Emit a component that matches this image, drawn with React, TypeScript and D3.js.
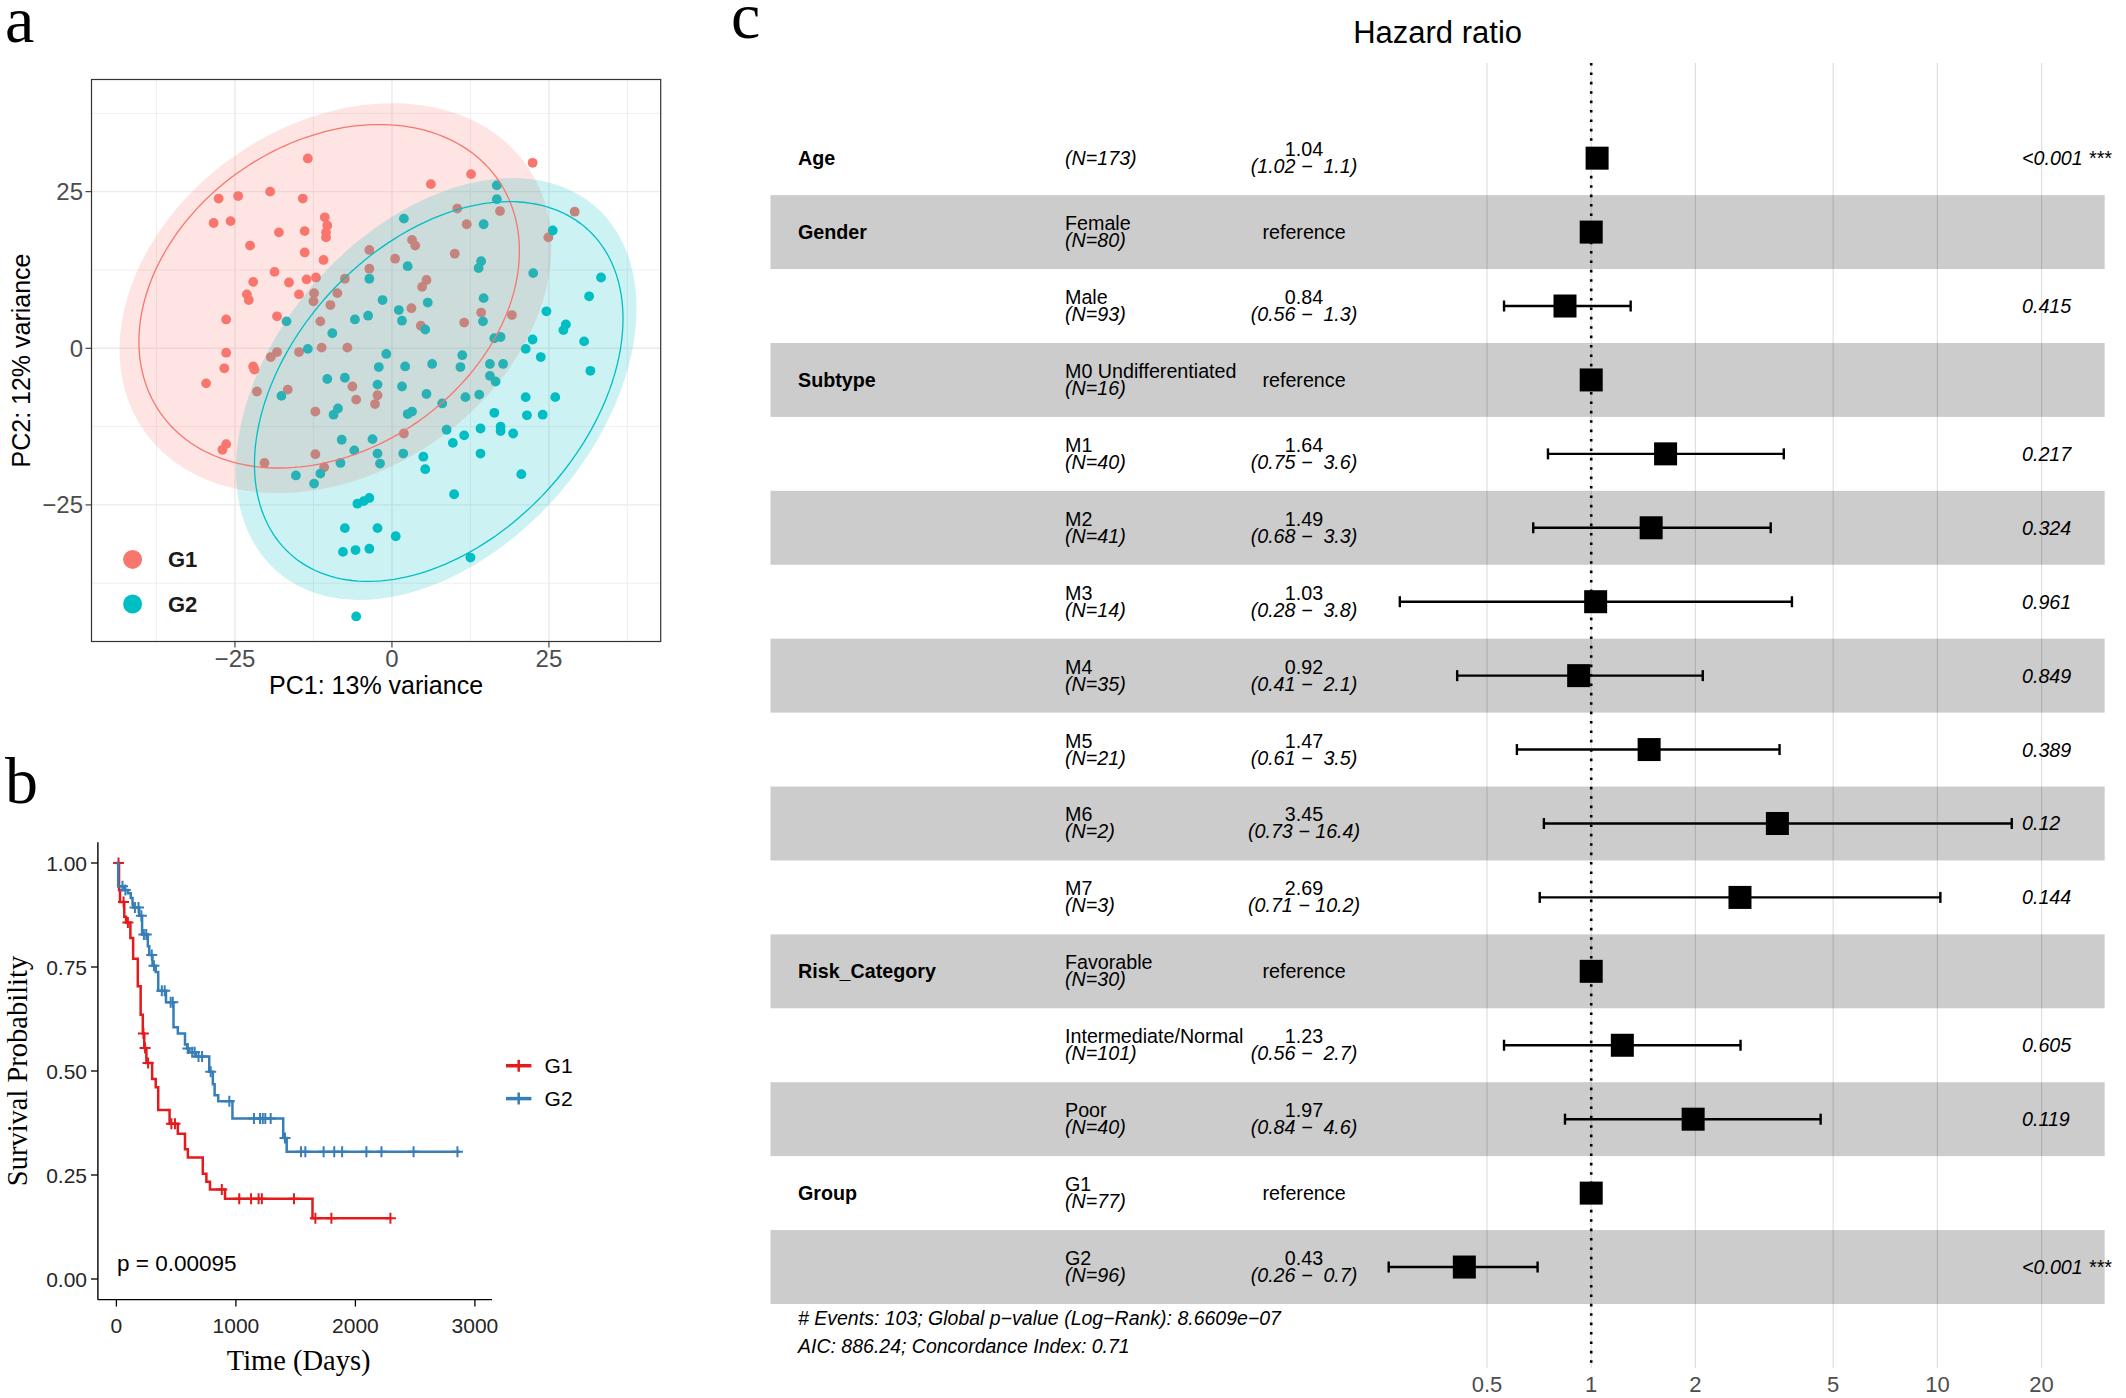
import React, { useEffect } from 'react';
import * as d3 from 'd3';

const SANS = '"Liberation Sans", Arial, Helvetica, sans-serif';
const SERIF = '"Liberation Serif", "Times New Roman", serif';

// ---------------- Panel a: PCA ----------------
const pcaGroups = ['G1', 'G2'];
const pcaColors = ['#F8766D', '#00BFC4'];
const g1Points: [number, number][] = [
  [-13.4, 30.3], [22.4, 29.6], [12.6, 27.8], [6.2, 26.2], [-27.6, 23.9], [-24.5, 24.3], [-19.4, 25.0],
  [-14.2, 23.9], [-28.4, 20.0], [-25.7, 20.3], [-10.7, 20.9], [-10.3, 19.6], [-10.5, 18.5], [-10.5, 17.7],
  [-18.0, 18.5], [-13.9, 18.7], [-22.6, 16.4], [-13.9, 15.3], [-10.9, 14.1], [-18.7, 12.2], [-22.1, 10.6],
  [-16.4, 10.5], [-13.6, 11.0], [-12.1, 11.3], [-23.1, 8.6], [-22.8, 7.7], [-14.8, 8.6], [-12.4, 8.8],
  [-12.5, 7.5], [-9.8, 6.9], [-8.7, 8.8], [-7.5, 11.1], [-3.6, 15.7], [-3.6, 12.7], [0.5, 14.3], [3.2, 17.3],
  [3.7, 16.4], [5.5, 10.9], [4.8, 9.8], [3.1, 6.4], [4.6, 3.6], [10.0, 15.1], [10.4, 22.3], [11.9, 19.8],
  [17.2, 21.9], [24.9, 17.7], [29.1, 21.8], [14.2, 5.7], [11.5, 4.1], [19.1, 5.3], [-26.4, 4.6], [-18.3, 5.1],
  [-11.4, 4.3], [-11.2, 0.1], [-7.1, 0.1], [-26.4, -0.7], [-18.3, -0.6], [-19.3, -1.4], [-14.8, -0.6],
  [-26.7, -3.2], [-22.1, -2.9], [-21.9, -3.4], [-29.6, -5.6], [-21.5, -6.9], [-16.6, -6.6], [-6.3, -6.1],
  [-5.7, -8.2], [-2.3, -7.5], [-2.7, -8.9], [-12.2, -10.1], [1.9, -13.6], [-26.4, -15.3], [-27.0, -16.2],
  [-12.2, -16.9], [-20.3, -18.3], [-10.8, -19.0],
];
const g2Points: [number, number][] = [
  [16.7, 26.0], [16.7, 23.8], [14.6, 19.8], [1.9, 20.7], [25.6, 18.8], [14.2, 13.9], [13.8, 12.8], [2.5, 13.1],
  [22.5, 12.0], [33.3, 11.3], [-3.6, 11.1], [-1.5, 7.7], [14.6, 8.0], [31.4, 8.3], [1.1, 6.1], [5.7, 7.3],
  [24.6, 5.9], [1.6, 4.4], [-3.8, 5.2], [-5.9, 4.6], [-16.8, 4.3], [5.3, 3.0], [14.5, 4.3], [27.7, 3.8],
  [27.3, 2.9], [-9.5, 2.4], [16.3, 1.6], [17.3, 1.8], [22.4, 1.4], [30.6, 1.1], [21.3, -0.1], [-13.4, -0.1],
  [-0.9, -0.9], [11.2, -1.1], [23.7, -1.4], [10.9, -3.0], [15.6, -2.5], [17.7, -2.5], [2.1, -2.9], [6.4, -2.5],
  [-2.1, -3.0], [31.6, -3.6], [-10.3, -4.9], [-7.5, -4.7], [-2.3, -5.8], [1.6, -6.1], [15.6, -4.4], [16.5, -5.3],
  [-17.6, -7.6], [5.5, -7.3], [13.9, -7.4], [11.7, -7.8], [21.3, -7.8], [26.0, -7.8], [8.0, -8.8], [-8.6, -9.6],
  [-9.3, -10.6], [2.5, -10.5], [3.2, -10.1], [16.3, -10.3], [21.5, -10.7], [24.0, -10.6], [17.3, -12.5],
  [17.3, -13.2], [19.3, -13.6], [8.7, -13.0], [11.5, -13.9], [14.1, -12.8], [-8.0, -14.6], [-3.1, -14.5],
  [9.7, -15.1], [-6.0, -16.3], [-2.3, -16.8], [1.8, -16.8], [5.0, -17.3], [-1.9, -18.4], [-8.2, -18.3],
  [-11.4, -20.0], [-15.3, -20.3], [-12.4, -21.6], [5.3, -19.3], [14.1, -16.8], [20.6, -20.1], [9.9, -23.3],
  [-5.5, -24.8], [-4.5, -24.4], [-3.6, -23.9], [-7.5, -28.7], [-2.3, -28.7], [0.6, -30.0], [-7.8, -32.5],
  [-5.8, -32.2], [-3.6, -32.0], [12.5, -33.4], [-5.7, -42.8],
];
const pcaPoints = [g1Points, g2Points];
const pcaXTicks = [-25, 0, 25];
const pcaYTicks = [-25, 0, 25];
const pcaMinorTicks = [-37.5, -12.5, 12.5, 37.5];
// ellipse parameters in data units: [centre x, centre y, semi-major, semi-minor, angle (deg)]
const ellipseFill: number[][] = [
  [-9.0, 8.0, 37.1, 27.8, 34.6],
  [7.05, -6.5, 38.6, 25.7, 49],
];
const ellipseLine: number[][] = [
  [-10.0, 8.3, 32.7, 24.5, 34.6],
  [7.45, -6.9, 35.1, 23.4, 47.4],
];

// ---------------- Panel b: Kaplan-Meier ----------------
const kmGroups = ['G1', 'G2'];
const kmColors = ['#E41A1C', '#377EB8'];
const g1StepTimes = [0, 22, 30, 66, 81, 117, 140, 179, 203, 221, 233, 251, 299, 329, 350, 445, 514, 574, 598, 723, 753, 783, 909, 1641];
const g1StepSurv = [1, 0.935, 0.906, 0.871, 0.857, 0.82, 0.77, 0.704, 0.635, 0.59, 0.555, 0.519, 0.481, 0.461, 0.406, 0.373, 0.349, 0.312, 0.292, 0.253, 0.234, 0.215, 0.193, 0.146];
const g1EndTime = 2302;
const g1Censor = [18, 60, 96, 226, 240, 265, 460, 490, 882, 1028, 1127, 1190, 1217, 1486, 1665, 1799, 2293];
const g2StepTimes = [0, 15, 66, 96, 120, 135, 140, 191, 215, 263, 275, 302, 329, 350, 415, 478, 514, 574, 592, 610, 664, 777, 807, 822, 852, 971, 1396, 1425];
const g2StepSurv = [1, 0.944, 0.935, 0.927, 0.916, 0.901, 0.893, 0.873, 0.828, 0.8, 0.779, 0.753, 0.738, 0.693, 0.665, 0.605, 0.59, 0.564, 0.554, 0.545, 0.535, 0.498, 0.468, 0.442, 0.427, 0.386, 0.339, 0.306];
const g2EndTime = 2875;
const g2Censor = [51, 75, 155, 185, 209, 230, 250, 296, 314, 380, 404, 454, 472, 598, 634, 655, 687, 717, 789, 945, 1151, 1202, 1225, 1246, 1291, 1411, 1545, 1581, 1734, 1823, 1889, 2092, 2218, 2487, 2854];
const kmTimes = [g1StepTimes, g2StepTimes];
const kmSurv = [g1StepSurv, g2StepSurv];
const kmEnd = [g1EndTime, g2EndTime];
const kmCensor = [g1Censor, g2Censor];
const kmXTicks = [0, 1000, 2000, 3000];
const kmYTicks = [0, 0.25, 0.5, 0.75, 1];
const kmPLabel = 'p = 0.00095';

// ---------------- Panel c: forest plot ----------------
const forestVars = ['Age', 'Gender', '', 'Subtype', '', '', '', '', '', '', '', 'Risk_Category', '', '', 'Group', ''];
const forestLevels = ['', 'Female', 'Male', 'M0 Undifferentiated', 'M1', 'M2', 'M3', 'M4', 'M5', 'M6', 'M7', 'Favorable', 'Intermediate/Normal', 'Poor', 'G1', 'G2'];
const forestN = [173, 80, 93, 16, 40, 41, 14, 35, 21, 2, 3, 30, 101, 40, 77, 96];
const forestHR = [1.04, 1, 0.84, 1, 1.64, 1.49, 1.03, 0.92, 1.47, 3.45, 2.69, 1, 1.23, 1.97, 1, 0.43];
const forestLo: (number | null)[] = [1.02, null, 0.56, null, 0.75, 0.68, 0.28, 0.41, 0.61, 0.73, 0.71, null, 0.56, 0.84, null, 0.26];
const forestHi: (number | null)[] = [1.1, null, 1.3, null, 3.6, 3.3, 3.8, 2.1, 3.5, 16.4, 10.2, null, 2.7, 4.6, null, 0.7];
const forestP = ['<0.001 ***', '', '0.415', '', '0.217', '0.324', '0.961', '0.849', '0.389', '0.12', '0.144', '', '0.605', '0.119', '', '<0.001 ***'];
const forestTicks = [0.5, 1, 2, 5, 10, 20];
const forestTitle = 'Hazard ratio';
const forestFooter = [
  '# Events: 103; Global p\u2212value (Log\u2212Rank): 8.6609e\u221207',
  'AIC: 886.24; Concordance Index: 0.71',
];

const minus = (s: string) => s.replace('-', '\u2212');

function PcaPanel() {
  const x = d3.scaleLinear().domain([-47.85, 42.8]).range([91.5, 660.7]);
  const y = d3.scaleLinear().domain([-46.8, 42.9]).range([641.5, 79.5]);
  const [x0, x1] = x.range();
  const [y0, y1] = [y.range()[1], y.range()[0]];
  const ellPath = (e: number[]) => {
    const [cx, cy, a, b, ang] = e;
    const th = (ang * Math.PI) / 180;
    const pts = d3.range(0, 360, 2).map((deg) => {
      const t = (deg * Math.PI) / 180;
      const ux = a * Math.cos(t);
      const uy = b * Math.sin(t);
      return [x(cx + ux * Math.cos(th) - uy * Math.sin(th)), y(cy + ux * Math.sin(th) + uy * Math.cos(th))] as [number, number];
    });
    return (d3.line()(pts) || '') + 'Z';
  };
  return (
    <g>
      <defs>
        <clipPath id="pcaClip">
          <rect x={x0} y={y0} width={x1 - x0} height={y1 - y0} />
        </clipPath>
      </defs>
      <rect x={x0} y={y0} width={x1 - x0} height={y1 - y0} fill="#fff" />
      {pcaMinorTicks.map((v) => (
        <g key={'m' + v}>
          <line x1={x(v)} x2={x(v)} y1={y0} y2={y1} stroke="#EBEBEB" strokeWidth={0.8} />
          <line x1={x0} x2={x1} y1={y(v)} y2={y(v)} stroke="#EBEBEB" strokeWidth={0.8} />
        </g>
      ))}
      {pcaXTicks.map((v) => (
        <line key={'gx' + v} x1={x(v)} x2={x(v)} y1={y0} y2={y1} stroke="#EBEBEB" strokeWidth={1.4} />
      ))}
      {pcaYTicks.map((v) => (
        <line key={'gy' + v} x1={x0} x2={x1} y1={y(v)} y2={y(v)} stroke="#EBEBEB" strokeWidth={1.4} />
      ))}
      <g clipPath="url(#pcaClip)">
        {pcaPoints.map((pts, gi) =>
          pts.map((p, i) => <circle key={gi + '-' + i} cx={x(p[0])} cy={y(p[1])} r={4.9} fill={pcaColors[gi]} />)
        )}
        {ellipseFill.map((e, gi) => (
          <path key={'ef' + gi} d={ellPath(e)} fill={pcaColors[gi]} fillOpacity={0.2} stroke="none" />
        ))}
        {ellipseLine.map((e, gi) => (
          <path key={'el' + gi} d={ellPath(e)} fill="none" stroke={pcaColors[gi]} strokeWidth={1.3} />
        ))}
      </g>
      <rect x={x0} y={y0} width={x1 - x0} height={y1 - y0} fill="none" stroke="#333" strokeWidth={1.2} />
      {pcaXTicks.map((v) => (
        <g key={'tx' + v}>
          <line x1={x(v)} x2={x(v)} y1={y1} y2={y1 + 6} stroke="#333" strokeWidth={1.1} />
          <text x={x(v)} y={667} textAnchor="middle" fontFamily={SANS} fontSize={24} fill="#4D4D4D">
            {minus(String(v))}
          </text>
        </g>
      ))}
      {pcaYTicks.map((v) => (
        <g key={'ty' + v}>
          <line x1={x0 - 6} x2={x0} y1={y(v)} y2={y(v)} stroke="#333" strokeWidth={1.1} />
          <text x={83} y={y(v) + 8.5} textAnchor="end" fontFamily={SANS} fontSize={24} fill="#4D4D4D">
            {minus(String(v))}
          </text>
        </g>
      ))}
      <text x={(x0 + x1) / 2} y={694} textAnchor="middle" fontFamily={SANS} fontSize={25} fill="#000">
        PC1: 13% variance
      </text>
      <text transform={`translate(30,${(y0 + y1) / 2}) rotate(-90)`} textAnchor="middle" fontFamily={SANS} fontSize={25} fill="#000">
        PC2: 12% variance
      </text>
      {pcaGroups.map((g, i) => (
        <g key={'lg' + g}>
          <circle cx={132.6} cy={559.4 + i * 44.6} r={9.5} fill={pcaColors[i]} />
          <text x={168} y={559.4 + i * 44.6 + 8} fontFamily={SANS} fontSize={22} fontWeight="bold" fill="#1a1a1a">
            {g}
          </text>
        </g>
      ))}
    </g>
  );
}

function KmPanel() {
  const x = d3.scaleLinear().domain([0, 3000]).range([116.4, 474.9]);
  const y = d3.scaleLinear().domain([0, 1]).range([1279, 863]);
  const survAt = (times: number[], surv: number[], t: number) => {
    const i = d3.bisectRight(times, t) - 1;
    return surv[Math.max(0, i)];
  };
  const line = d3.line<[number, number]>().curve(d3.curveStepAfter);
  return (
    <g>
      {kmGroups.map((g, gi) => {
        const times = kmTimes[gi];
        const surv = kmSurv[gi];
        const pts: [number, number][] = times.map((t, i) => [x(t), y(surv[i])]);
        pts.push([x(kmEnd[gi]), y(surv[surv.length - 1])]);
        return (
          <g key={g}>
            <path d={line(pts) || ''} fill="none" stroke={kmColors[gi]} strokeWidth={2.5} />
            {kmCensor[gi].map((t, i) => {
              const cx = x(t);
              const cy = y(survAt(times, surv, t));
              return (
                <path key={i} d={`M${cx - 5.5},${cy}H${cx + 5.5}M${cx},${cy - 5.5}V${cy + 5.5}`} stroke={kmColors[gi]} strokeWidth={2} />
              );
            })}
          </g>
        );
      })}
      <line x1={x(-155)} x2={x(3143)} y1={1299.6} y2={1299.6} stroke="#000" strokeWidth={1.4} />
      <line x1={97.9} x2={97.9} y1={y(-0.05)} y2={y(1.05)} stroke="#000" strokeWidth={1.4} />
      {kmXTicks.map((v) => (
        <g key={'kx' + v}>
          <line x1={x(v)} x2={x(v)} y1={1299.6} y2={1306.5} stroke="#000" strokeWidth={1.3} />
          <text x={x(v)} y={1332.5} textAnchor="middle" fontFamily={SANS} fontSize={21} fill="#262626">
            {v}
          </text>
        </g>
      ))}
      {kmYTicks.map((v) => (
        <g key={'ky' + v}>
          <line x1={91} x2={97.9} y1={y(v)} y2={y(v)} stroke="#000" strokeWidth={1.3} />
          <text x={87} y={y(v) + 7.5} textAnchor="end" fontFamily={SANS} fontSize={21} fill="#262626">
            {v.toFixed(2)}
          </text>
        </g>
      ))}
      <text x={117} y={1271} fontFamily={SANS} fontSize={22.5} fill="#000">
        {kmPLabel}
      </text>
      <text x={(x(0) + x(3000)) / 2 + 3} y={1370} textAnchor="middle" fontFamily={SERIF} fontSize={28.5} fill="#000">
        Time (Days)
      </text>
      <text transform={`translate(27,${1071}) rotate(-90)`} textAnchor="middle" fontFamily={SERIF} fontSize={28.5} fill="#000">
        Survival Probability
      </text>
      {kmGroups.map((g, i) => {
        const cy = 1065.7 + i * 32.9;
        return (
          <g key={'kl' + g}>
            <line x1={506} x2={531.4} y1={cy} y2={cy} stroke={kmColors[i]} strokeWidth={3.5} />
            <path d={`M${518.7 - 6},${cy}H${518.7 + 6}M${518.7},${cy - 6}V${cy + 6}`} stroke={kmColors[i]} strokeWidth={2.5} />
            <text x={544.6} y={cy + 7.5} fontFamily={SANS} fontSize={21} fill="#000">
              {g}
            </text>
          </g>
        );
      })}
    </g>
  );
}

function ForestPanel() {
  const x = d3.scaleLog().domain([0.5, 20]).range([1487, 2041.6]);
  const rows = d3.range(forestLevels.length);
  const band = d3.scaleBand<number>().domain(rows).range([121.2, 1304]).padding(0);
  const bandL = 770.5;
  const bandR = 2104.7;
  const gridTop = 63;
  const gridBot = 1368;
  const fs = 19.7;
  const fmtHi = (v: number) => v.toFixed(1).padStart(4, ' ');
  return (
    <g>
      {rows.map((i) =>
        i % 2 === 1 ? (
          <rect key={'b' + i} x={bandL} y={band(i)} width={bandR - bandL} height={band.bandwidth()} fill="#CCCCCC" />
        ) : null
      )}
      {forestTicks.map((v) => (
        <line key={'g' + v} x1={x(v)} x2={x(v)} y1={gridTop} y2={gridBot} stroke="#000" strokeOpacity={0.13} strokeWidth={1.2} />
      ))}
      <line x1={x(1)} x2={x(1)} y1={gridTop} y2={gridBot} stroke="#000" strokeWidth={2.6} strokeDasharray="2.6 6.8" />
      {rows.map((i) => {
        const c = (band(i) as number) + band.bandwidth() / 2;
        const lo = forestLo[i];
        const hi = forestHi[i];
        const isRef = lo === null || hi === null;
        const hr = forestHR[i];
        return (
          <g key={'r' + i}>
            {forestVars[i] ? (
              <text x={798} y={c + 7} fontFamily={SANS} fontSize={fs} fontWeight="bold" fill="#000">
                {forestVars[i]}
              </text>
            ) : null}
            {forestLevels[i] ? (
              <>
                <text x={1065} y={c - 2} fontFamily={SANS} fontSize={fs} fill="#000">
                  {forestLevels[i]}
                </text>
                <text x={1065} y={c + 15} fontFamily={SANS} fontSize={fs} fontStyle="italic" fill="#000">
                  {`(N=${forestN[i]})`}
                </text>
              </>
            ) : (
              <text x={1065} y={c + 7} fontFamily={SANS} fontSize={fs} fontStyle="italic" fill="#000">
                {`(N=${forestN[i]})`}
              </text>
            )}
            {isRef ? (
              <text x={1304} y={c + 7} textAnchor="middle" fontFamily={SANS} fontSize={fs} fill="#000">
                reference
              </text>
            ) : (
              <>
                <text x={1304} y={c - 2} textAnchor="middle" fontFamily={SANS} fontSize={fs} fill="#000">
                  {hr.toFixed(2)}
                </text>
                <text x={1304} y={c + 15} textAnchor="middle" fontFamily={SANS} fontSize={fs} fontStyle="italic" fill="#000" xmlSpace="preserve" style={{ whiteSpace: 'pre' }}>
                  {`(${(lo as number).toFixed(2)} \u2212 ${fmtHi(hi as number)})`}
                </text>
              </>
            )}
            {!isRef ? (
              <g stroke="#000" strokeWidth={2.4}>
                <line x1={x(lo as number)} x2={x(hi as number)} y1={c} y2={c} />
                <line x1={x(lo as number)} x2={x(lo as number)} y1={c - 5.5} y2={c + 5.5} />
                <line x1={x(hi as number)} x2={x(hi as number)} y1={c - 5.5} y2={c + 5.5} />
              </g>
            ) : null}
            <rect x={x(hr) - 11.5} y={c - 11.5} width={23} height={23} fill="#000" />
            {forestP[i] ? (
              <text x={2022} y={c + 7} fontFamily={SANS} fontSize={fs} fontStyle="italic" fill="#000" xmlSpace="preserve" style={{ whiteSpace: 'pre' }}>
                {forestP[i]}
              </text>
            ) : null}
          </g>
        );
      })}
      {forestTicks.map((v) => (
        <text key={'t' + v} x={x(v)} y={1392} textAnchor="middle" fontFamily={SANS} fontSize={22} fill="#4D4D4D">
          {String(v)}
        </text>
      ))}
      <text x={(bandL + bandR) / 2} y={43} textAnchor="middle" fontFamily={SANS} fontSize={31} fill="#000">
        {forestTitle}
      </text>
      {forestFooter.map((s, i) => (
        <text key={'f' + i} x={798} y={1325 + i * 27.5} fontFamily={SANS} fontSize={19.5} fontStyle="italic" fill="#000">
          {s}
        </text>
      ))}
    </g>
  );
}

export default function App() {
  useEffect(() => {
    document.body.style.margin = '0';
  }, []);
  return (
    <svg width={2126} height={1398} viewBox="0 0 2126 1398" style={{ position: 'absolute', left: 0, top: 0, background: '#fff' }}>
      <rect width={2126} height={1398} fill="#fff" />
      <text x={5} y={42} fontFamily={SERIF} fontSize={66} fill="#000">a</text>
      <text x={5} y={803} fontFamily={SERIF} fontSize={66} fill="#000">b</text>
      <text x={731} y={38} fontFamily={SERIF} fontSize={66} fill="#000">c</text>
      <PcaPanel />
      <KmPanel />
      <ForestPanel />
    </svg>
  );
}
